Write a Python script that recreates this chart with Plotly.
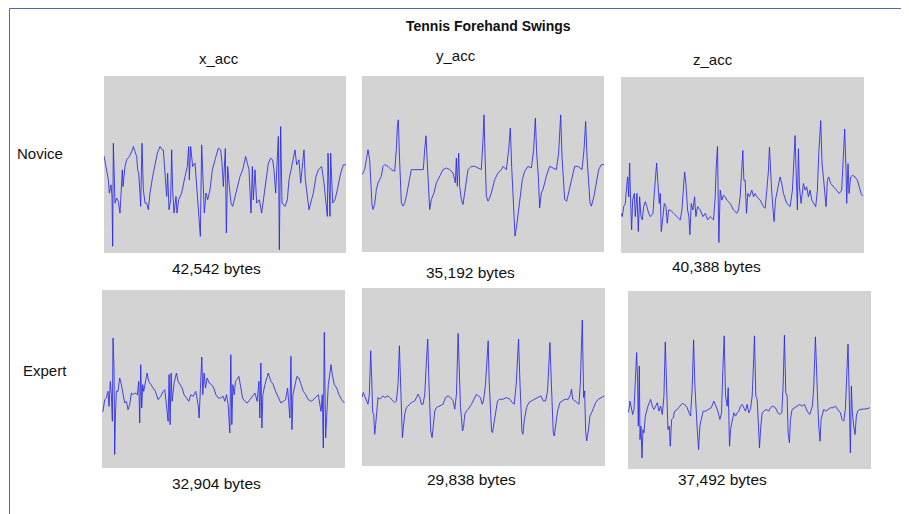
import plotly.graph_objects as go

W, H = 909, 514
OFF = 8  # page body margin in the browser

# ---- data: signal traces (t = sample position, v = acceleration reading, screen-down units) ----
novice_x_t = [12,20,25,28,33,36,38,40,45,50,55,60,62,67,69,75,80,88,95,100,105,110,113,116,120,122,126,130,135,140,145,150,158,165,172,180,187,190,195,200,203,207,212,215,218,222,228,231,236,245,255,262,266,268,272,278,285,290,295,301,305,310,313,318,323,330,337,345,355,362,366,370,376,379,383,388,393,398,403,410,420,428,437,442,447,453,457,460,465,470,478,485,490,497,505,512,518,522,527,535,537,538,542,546,555,562,567,573,580,585,590,597,602,612,616,622,627,632,640,648,655,665,672,682,684,690,692,698,705,712,718,722,730,738]
novice_x_v = [258,300,330,370,345,380,530,220,400,385,395,430,390,300,350,290,270,260,245,230,245,260,300,310,370,410,220,360,400,400,420,370,320,280,250,230,240,240,320,380,310,420,390,240,360,430,380,430,390,370,320,290,230,330,230,290,280,360,430,500,225,380,430,370,390,360,300,270,235,240,280,350,236,490,290,350,400,410,390,360,320,300,260,280,300,430,290,390,300,400,390,430,390,330,280,265,270,300,370,200,400,540,170,400,410,390,330,300,270,240,285,270,340,240,330,390,420,400,370,320,300,290,340,440,250,440,250,400,390,360,330,310,285,285]

novice_y_t = [12,20,25,30,35,38,42,45,50,55,60,65,70,75,80,90,100,110,115,118,121,124,127,130,135,140,145,150,155,160,170,180,190,196,200,204,208,212,215,220,228,235,245,255,265,275,285,292,295,298,302,305,310,315,320,325,330,340,350,360,370,375,378,381,385,390,395,400,405,410,420,430,435,445,452,457,461,465,468,471,476,482,488,493,500,510,520,527,532,536,541,545,550,555,560,565,575,585,595,602,608,612,616,620,626,632,640,650,660,672,678,683,687,692,696,700,708,715,722,730,738]
novice_y_v = [315,300,270,240,270,335,405,420,405,360,340,330,320,290,285,290,300,305,240,170,150,250,330,400,410,400,380,350,320,300,300,300,300,300,240,198,280,360,420,390,370,340,320,300,295,300,310,340,265,350,250,350,390,405,370,330,300,290,290,295,300,210,135,250,380,395,385,370,350,330,310,300,290,300,240,175,290,380,460,500,470,420,360,330,305,290,295,240,145,250,320,415,370,360,340,320,290,295,300,250,135,260,330,390,395,370,330,290,290,300,240,155,260,360,400,410,380,340,300,285,285]

novice_z_t = [12,16,20,25,28,32,35,38,41,44,47,52,55,60,64,68,72,76,80,85,90,95,100,108,112,116,119,123,127,130,133,138,142,147,151,155,160,170,180,190,195,199,203,207,212,216,219,223,228,233,237,242,250,258,265,272,280,290,295,298,302,304,306,310,315,320,325,330,340,350,360,365,370,374,378,381,385,389,393,398,405,410,415,420,430,440,445,450,455,458,461,464,468,472,476,480,485,490,495,500,510,520,527,531,535,538,542,545,548,553,560,565,570,575,580,585,590,597,602,606,612,616,620,624,628,632,636,642,650,660,668,675,680,684,688,690,694,697,702,708,715,722,728,733,738]
novice_z_v = [430,440,410,400,360,320,380,278,400,480,390,370,440,370,485,380,440,450,410,395,410,430,440,430,370,310,278,340,400,370,485,440,400,410,460,420,420,430,440,450,420,340,305,340,420,440,495,400,420,380,440,410,420,440,430,450,440,450,380,290,228,380,518,360,390,375,380,390,400,420,430,420,380,310,240,330,330,430,370,380,360,380,370,380,390,410,415,360,300,230,320,350,410,455,390,370,340,320,340,370,400,410,360,270,195,300,420,235,350,400,340,360,350,380,360,390,400,410,360,250,150,280,320,360,410,330,320,340,350,360,370,360,260,175,300,400,280,370,320,315,320,330,350,370,378]

expert_x_t = [12,15,20,25,30,33,37,40,43,45,48,50,52,55,60,65,70,75,80,85,90,95,100,105,110,118,122,125,128,131,134,137,142,147,152,158,165,172,180,188,195,200,205,210,213,216,219,222,228,235,240,245,252,258,265,272,278,285,293,300,303,308,311,314,318,322,327,333,340,347,353,360,367,375,380,385,390,395,398,401,404,408,412,416,422,428,433,440,447,455,463,470,477,482,485,488,491,494,500,505,510,518,525,532,540,548,555,562,568,572,575,578,581,584,590,596,602,608,615,622,630,640,650,660,668,672,675,678,682,685,690,695,698,702,708,715,722,730,738]
expert_x_v = [383,380,345,340,320,365,290,330,410,160,250,510,400,320,320,280,300,330,355,350,375,360,325,330,325,330,290,415,240,370,300,320,290,265,290,300,310,320,345,335,320,315,360,410,270,420,265,350,295,265,290,300,310,330,340,350,330,335,320,360,400,260,217,330,265,310,280,295,300,310,330,340,340,335,350,330,360,445,210,420,300,330,290,285,275,310,340,350,355,345,335,325,350,290,400,235,430,330,300,280,265,290,300,320,340,355,350,345,310,370,400,215,435,330,300,275,280,300,320,330,345,350,340,330,380,330,490,143,460,380,300,265,240,270,300,310,330,345,355]

expert_y_t = [12,16,20,25,30,34,38,41,44,47,50,53,56,60,65,70,75,80,90,95,100,105,110,115,120,124,127,130,133,136,140,145,150,160,170,180,185,190,195,200,205,209,212,215,218,222,226,230,235,245,255,262,270,277,285,290,295,300,303,307,310,313,316,320,325,330,340,350,355,360,367,372,376,382,390,393,397,400,403,407,412,418,425,435,445,455,462,468,474,481,485,488,491,494,498,505,512,520,530,540,548,555,562,568,575,579,582,585,588,592,598,605,612,620,630,637,640,643,650,657,662,666,672,676,679,682,685,690,695,700,706,712,720,730,738]
expert_y_v = [340,325,335,350,360,330,200,280,385,390,450,420,370,340,345,340,335,340,335,340,345,350,355,350,300,185,290,410,460,430,390,370,365,355,350,330,340,360,360,330,230,165,280,380,440,460,420,380,370,365,360,340,335,340,350,375,330,148,260,370,400,440,430,390,380,375,360,340,330,335,340,360,350,300,170,290,400,440,445,420,380,350,345,345,340,345,355,360,300,165,290,390,440,450,410,370,355,350,345,340,335,350,350,320,175,290,390,445,455,420,380,355,350,345,345,330,315,345,350,355,360,300,108,340,320,440,470,440,395,385,370,355,345,340,335]

expert_z_t = [12,15,18,22,26,30,34,38,41,43,46,48,51,54,57,60,64,68,72,76,80,85,90,95,100,105,110,115,120,124,128,132,136,139,143,148,152,160,168,175,182,190,195,200,205,209,213,217,220,224,228,232,238,245,255,262,270,275,282,288,293,297,301,305,310,313,317,320,325,330,335,340,345,350,355,360,365,370,375,380,385,388,392,396,400,404,407,411,415,420,427,435,440,447,455,462,468,474,478,482,486,490,493,497,500,505,512,520,528,535,542,550,558,566,570,575,579,582,585,589,592,596,600,606,612,620,628,635,642,650,655,660,665,670,673,676,680,683,686,690,694,698,702,708,715,722,730,738]
expert_z_v = [380,370,345,370,385,370,300,200,290,420,240,460,420,515,430,440,390,370,360,350,340,360,370,360,350,375,360,385,330,168,320,430,420,480,400,395,375,370,360,352,355,365,380,390,300,162,300,400,430,490,420,400,375,375,370,365,345,360,375,400,380,250,150,330,360,305,480,430,400,380,390,380,375,360,355,365,375,355,380,370,330,260,150,330,340,420,485,420,380,375,370,375,365,360,365,380,385,380,300,148,320,330,440,470,400,370,365,360,355,360,355,375,385,360,300,153,310,350,420,465,400,380,370,375,370,365,365,360,370,380,400,405,370,270,175,300,500,300,380,420,445,390,375,370,370,370,368,365]

row_labels = ["Novice", "Expert"]
col_labels = ["x_acc", "y_acc", "z_acc"]
byte_labels = ["42,542 bytes", "35,192 bytes", "40,388 bytes",
               "32,904 bytes", "29,838 bytes", "37,492 bytes"]
title_text = "Tennis Forehand Swings"

series = [(novice_x_t, novice_x_v), (novice_y_t, novice_y_v), (novice_z_t, novice_z_v),
          (expert_x_t, expert_x_v), (expert_y_t, expert_y_v), (expert_z_t, expert_z_v)]

# ---- layout (page-pixel boxes of each panel: left, right, top, bottom) ----
boxes = [(104, 346, 76, 253), (362, 604, 76, 252), (621, 864, 77, 253),
         (102, 345, 290, 468), (362, 605, 288, 466), (628, 871, 291, 469)]
t_ranges = [(12, 738), (12, 738), (12, 742), (12, 740), (12, 740), (12, 742)]
v_ranges = [(18, 550), (18, 548), (18, 550), (16, 550), (12, 545), (16, 548)]

FW, FH = W - OFF, H - OFF

def px(x):
    return (x - OFF) / FW

def py(y):
    return 1 - (y - OFF) / FH

fig = go.Figure()
layout = dict(width=FW, height=FH, margin=dict(l=0, r=0, t=0, b=0),
              paper_bgcolor="white", plot_bgcolor="#d3d3d3", showlegend=False,
              font=dict(family="Liberation Sans, Arial, sans-serif", color="#111111"))

for i, ((t, v), (l, r, tp, bt), tr, vr) in enumerate(zip(series, boxes, t_ranges, v_ranges)):
    n = "" if i == 0 else str(i + 1)
    fig.add_trace(go.Scatter(x=t, y=v, mode="lines", xaxis="x" + n, yaxis="y" + n,
                             line=dict(color="rgba(40,40,235,0.85)", width=1), hoverinfo="skip"))
    layout["xaxis" + n] = dict(domain=[px(l), px(r)], range=list(tr), visible=False,
                               anchor="y" + n, fixedrange=True)
    layout["yaxis" + n] = dict(domain=[py(bt), py(tp)], range=[vr[1], vr[0]], visible=False,
                               anchor="x" + n, fixedrange=True)

fig.update_layout(**layout)

def txt(s, x, y, size=15, bold=False):
    fig.add_annotation(text=("<b>%s</b>" % s) if bold else s, x=px(x), y=py(y),
                       xref="paper", yref="paper", showarrow=False,
                       xanchor="center", yanchor="middle", font=dict(size=size))

txt(title_text, 488, 26, size=14, bold=True)
for s, (x, y) in zip(col_labels, [(219, 59), (456, 55), (713, 60)]):
    txt(s, x, y, size=15)
for s, (x, y) in zip(row_labels, [(40, 153), (44.5, 370)]):
    txt(s, x, y, size=15)
for s, (x, y) in zip(byte_labels, [(216, 268), (470, 272), (716, 266), (216, 483), (472, 479), (722, 479)]):
    txt(s, x, y, size=15.5)

# frame lines (top and left)
fig.add_shape(type="line", xref="paper", yref="paper", x0=px(9.5), x1=1, y0=py(8.5), y1=py(8.5),
              line=dict(color="#4a6cb3", width=1))
fig.add_shape(type="line", xref="paper", yref="paper", x0=px(9.5), x1=px(9.5), y0=0, y1=py(8.5),
              line=dict(color="#4a6cb3", width=1))

fig.write_html("out.html")
